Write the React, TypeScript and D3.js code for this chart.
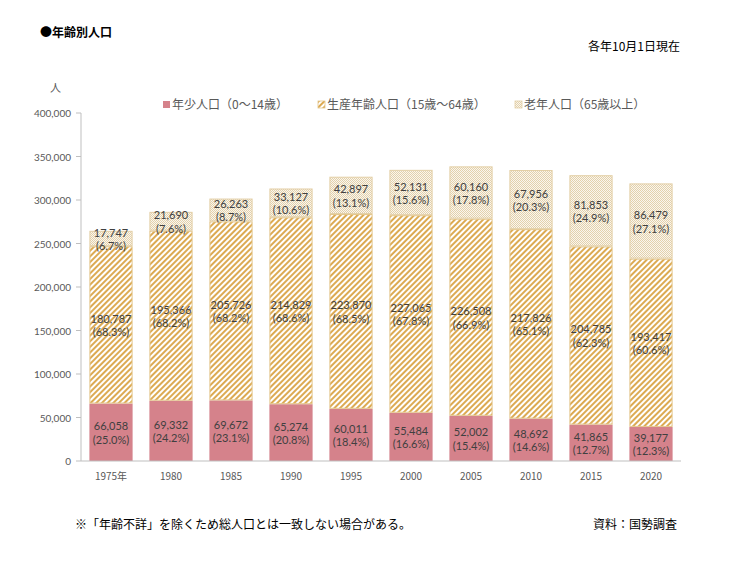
import React from "react";
import * as d3 from "d3";

const years = ["1975年", "1980", "1985", "1990", "1995", "2000", "2005", "2010", "2015", "2020"];
const young = [66058, 69332, 69672, 65274, 60011, 55484, 52002, 48692, 41865, 39177];
const youngPct = [25.0, 24.2, 23.1, 20.8, 18.4, 16.6, 15.4, 14.6, 12.7, 12.3];
const working = [180787, 195366, 205726, 214829, 223870, 227065, 226508, 217826, 204785, 193417];
const workingPct = [68.3, 68.2, 68.2, 68.6, 68.5, 67.8, 66.9, 65.1, 62.3, 60.6];
const elderly = [17747, 21690, 26263, 33127, 42897, 52131, 60160, 67956, 81853, 86479];
const elderlyPct = [6.7, 7.6, 8.7, 10.6, 13.1, 15.6, 17.8, 20.3, 24.9, 27.1];
const yTicks = [0, 50000, 100000, 150000, 200000, 250000, 300000, 350000, 400000];
const legendLabels = ["年少人口（0～14歳）", "生産年齢人口（15歳～64歳）", "老年人口（65歳以上）"];

const FONT = "'Noto Sans CJK JP', 'Noto Sans', sans-serif";
const NUMFONT = "Lato, 'Noto Sans', sans-serif";

export default function App() {
  const W = 756, H = 567;
  const left = 81, right = 681, top = 113, bottom = 461;
  const x = d3.scaleBand<string>().domain(years).range([left, right]).paddingInner(0.28).paddingOuter(0.14);
  const y = d3.scaleLinear().domain([0, 400000]).range([bottom, top]);
  const fmt = d3.format(",");
  const bw = x.bandwidth();

  const segs = years.map((yr, i) => {
    const y0 = 0, y1 = young[i], y2 = y1 + working[i], y3 = y2 + elderly[i];
    return [
      { kind: 0, a: y0, b: y1, v: young[i], p: youngPct[i] },
      { kind: 1, a: y1, b: y2, v: working[i], p: workingPct[i] },
      { kind: 2, a: y2, b: y3, v: elderly[i], p: elderlyPct[i] },
    ].map(s => ({ ...s, yr }));
  });

  const fills = ["#d5828b", "url(#stripe)", "url(#check)"];
  const strokes = ["none", "#e3c68c", "#e3cfa6"];
  const legendX = [163, 318, 515];

  return (
    <svg width={W} height={H} style={{ position: "absolute", left: 0, top: 0, background: "#fff" }} fontFamily={FONT}>
      <defs>
        <pattern id="stripe" patternUnits="userSpaceOnUse" width={4} height={4} patternTransform="rotate(45)">
          <rect width={4} height={4} fill="#ffffff" />
          <rect width={2} height={4} fill="#dcaa52" />
        </pattern>
        <pattern id="check" patternUnits="userSpaceOnUse" width={2} height={2}>
          <rect width={2} height={2} fill="#faf6ee" />
          <rect width={1} height={1} fill="#e3d1ac" />
          <rect x={1} y={1} width={1} height={1} fill="#e3d1ac" />
        </pattern>
      </defs>

      <text x={40} y={37} fontSize={12} fontWeight="bold" fill="#000">●年齢別人口</text>
      <text x={680} y={51} fontSize={12} textAnchor="end" fill="#000">各年10月1日現在</text>
      <text x={50} y={92} fontSize={11} fill="#595959">人</text>

      {/* legend */}
      {legendLabels.map((l, i) => (
        <g key={l}>
          <rect x={legendX[i]} y={101} width={7} height={7} fill={fills[i]} stroke={i === 0 ? "none" : strokes[i]} strokeWidth={0.8} />
          <text x={legendX[i] + 9} y={109} fontSize={12} fill="#595959">{l}</text>
        </g>
      ))}

      {/* y axis */}
      <line x1={left} x2={left} y1={top} y2={bottom} stroke="#bfbfbf" />
      {yTicks.map(t => (
        <g key={t}>
          <line x1={left - 5} x2={left} y1={y(t)} y2={y(t)} stroke="#bfbfbf" />
          <text x={left - 10} y={y(t) + 4} fontSize={10} textAnchor="end" fill="#595959" fontFamily={NUMFONT}>{fmt(t)}</text>
        </g>
      ))}

      {/* bars */}
      {segs.flat().map((s, k) => (
        <rect key={k} x={x(s.yr)! + (s.kind ? 0.5 : 0)} width={bw - (s.kind ? 1 : 0)}
          y={y(s.b) + (s.kind ? 0.5 : 0)} height={Math.max(0, y(s.a) - y(s.b) - (s.kind ? 1 : 0))}
          fill={fills[s.kind]} stroke={strokes[s.kind]} strokeWidth={1} />
      ))}

      {/* x axis */}
      <line x1={left} x2={right} y1={bottom} y2={bottom} stroke="#bfbfbf" />
      {years.map(yr => (
        <text key={yr} x={x(yr)! + bw / 2} y={480} fontSize={10} textAnchor="middle" fill="#595959">{yr}</text>
      ))}

      {/* labels */}
      {segs.flat().map((s, k) => {
        const cy = (y(s.a) + y(s.b)) / 2;
        const cx = x(s.yr)! + bw / 2;
        return (
          <g key={"l" + k} fontSize={11} textAnchor="middle" fill="#404040" fontFamily={NUMFONT}>
            <text x={cx} y={cy - 2}>{fmt(s.v)}</text>
            <text x={cx} y={cy + 11.5}>({s.p.toFixed(1)}%)</text>
          </g>
        );
      })}

      <text x={75} y={529} fontSize={12} fill="#000">※「年齢不詳」を除くため総人口とは一致しない場合がある。</text>
      <text x={677} y={529} fontSize={12} textAnchor="end" fill="#000">資料：国勢調査</text>
    </svg>
  );
}
